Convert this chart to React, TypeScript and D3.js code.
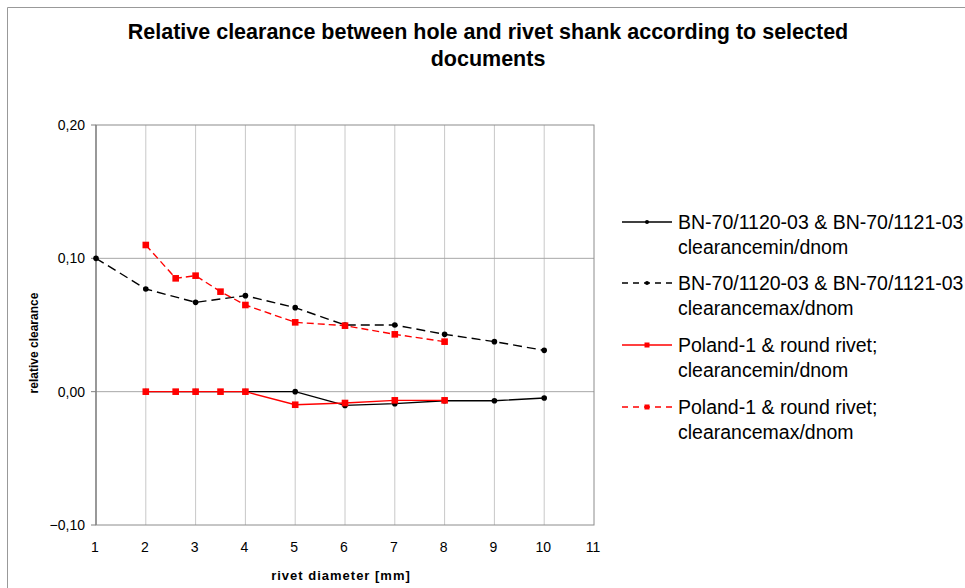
import React from "react";
import * as d3 from "d3";

const W = 965;
const H = 588;

const titleLines = [
  "Relative clearance between hole and rivet shank according to selected",
  "documents",
];

const xTicks = [1, 2, 3, 4, 5, 6, 7, 8, 9, 10, 11];
const yTicks = [-0.1, 0, 0.1, 0.2];

// BN-70/1120-03 & BN-70/1121-03
const bnMinX = [2, 3, 4, 5, 6, 7, 8, 9, 10];
const bnMinY = [0, 0, 0, 0, -0.0103, -0.009, -0.0068, -0.0068, -0.0047];
const bnMaxX = [1, 2, 3, 4, 5, 6, 7, 8, 9, 10];
const bnMaxY = [0.1, 0.077, 0.067, 0.072, 0.063, 0.05, 0.05, 0.043, 0.0375, 0.031];

// Poland-1 & round rivet
const plX = [2, 2.6, 3, 3.5, 4, 5, 6, 7, 8];
const plMinY = [0, 0, 0, 0, 0, -0.0098, -0.0085, -0.0065, -0.0065];
const plMaxY = [0.11, 0.085, 0.087, 0.075, 0.065, 0.052, 0.0495, 0.043, 0.0375];

const legendLabels = [
  ["BN-70/1120-03 & BN-70/1121-03", "clearancemin/dnom"],
  ["BN-70/1120-03 & BN-70/1121-03", "clearancemax/dnom"],
  ["Poland-1 & round rivet;", "clearancemin/dnom"],
  ["Poland-1 & round rivet;", "clearancemax/dnom"],
];

const FONT = "'Liberation Sans', Arial, sans-serif";

type Series = {
  xs: number[];
  ys: number[];
  color: string;
  dash: string | null;
  marker: "circle" | "square";
};

const series: Series[] = [
  { xs: bnMinX, ys: bnMinY, color: "#000000", dash: null, marker: "circle" },
  { xs: bnMaxX, ys: bnMaxY, color: "#000000", dash: "9,5", marker: "circle" },
  { xs: plX, ys: plMinY, color: "#ff0000", dash: null, marker: "square" },
  { xs: plX, ys: plMaxY, color: "#ff0000", dash: "7,4", marker: "square" },
];

export default function App() {
  const left = 96;
  const right = 594;
  const top = 125;
  const bottom = 525;

  const x = d3.scaleLinear().domain([1, 11]).range([left, right]);
  const y = d3.scaleLinear().domain([-0.1, 0.2]).range([bottom, top]);

  const line = d3
    .line<[number, number]>()
    .x((d) => x(d[0]))
    .y((d) => y(d[1]));

  const fmt = (v: number) => d3.format(".2f")(v).replace(".", ",");

  const marker = (s: Series, cx: number, cy: number, key: string) =>
    s.marker === "circle" ? (
      <circle key={key} cx={cx} cy={cy} r={2.8} fill={s.color} />
    ) : (
      <rect key={key} x={cx - 3.3} y={cy - 3.3} width={6.6} height={6.6} fill={s.color} />
    );

  const legendRows = [222, 283, 345, 407];

  return (
    <svg
      width={W}
      height={H}
      style={{ position: "absolute", left: 0, top: 0, background: "#fff" }}
      fontFamily={FONT}
    >
      {/* outer frame */}
      <line x1={7.5} y1={7.5} x2={W} y2={7.5} stroke="#999" strokeWidth={1} />
      <line x1={7.5} y1={7.5} x2={7.5} y2={H} stroke="#999" strokeWidth={1} />

      {/* title */}
      {titleLines.map((t, i) => (
        <text
          key={i}
          x={488}
          y={39 + i * 27}
          textAnchor="middle"
          fontSize={21.5}
          fontWeight="bold"
          fill="#000"
        >
          {t}
        </text>
      ))}

      {/* gridlines */}
      {xTicks.slice(1, -1).map((t) => (
        <line
          key={"gx" + t}
          x1={x(t)}
          x2={x(t)}
          y1={top}
          y2={bottom}
          stroke="#c8c8c8"
          strokeWidth={1}
        />
      ))}
      {yTicks.slice(1, -1).map((t) => (
        <line
          key={"gy" + t}
          x1={left}
          x2={right}
          y1={y(t)}
          y2={y(t)}
          stroke="#a8a8a8"
          strokeWidth={1}
        />
      ))}

      {/* plot border */}
      <rect
        x={left}
        y={top}
        width={right - left}
        height={bottom - top}
        fill="none"
        stroke="#8c8c8c"
        strokeWidth={1}
      />
      <line x1={left} x2={left} y1={top} y2={bottom} stroke="#808080" strokeWidth={1.3} />

      {/* y ticks and labels */}
      {yTicks.map((t) => (
        <g key={"yt" + t}>
          <line x1={left - 5} x2={left} y1={y(t)} y2={y(t)} stroke="#808080" />
          <text
            x={85}
            y={y(t)}
            dy="0.35em"
            textAnchor="end"
            fontSize={14}
            fill="#000"
          >
            {fmt(t)}
          </text>
        </g>
      ))}

      {/* x tick labels */}
      {xTicks.map((t) => (
        <text
          key={"xt" + t}
          x={x(t) - 1}
          y={552}
          textAnchor="middle"
          fontSize={14}
          fill="#000"
        >
          {t}
        </text>
      ))}

      {/* axis titles */}
      <text
        x={341}
        y={580}
        textAnchor="middle"
        fontSize={13}
        fontWeight="bold"
        letterSpacing={1}
        fill="#000"
      >
        rivet diameter [mm]
      </text>
      <text
        transform={`translate(38,343) rotate(-90)`}
        textAnchor="middle"
        fontSize={12}
        fontWeight="bold"
        fill="#000"
      >
        relative clearance
      </text>

      {/* series */}
      {series.map((s, i) => {
        const pts: [number, number][] = s.xs.map((v, j) => [v, s.ys[j]]);
        return (
          <g key={"s" + i}>
            <path
              d={line(pts) ?? ""}
              fill="none"
              stroke={s.color}
              strokeWidth={1.4}
              strokeDasharray={s.dash ?? undefined}
            />
            {pts.map((p, j) => marker(s, x(p[0]), y(p[1]), `m${i}-${j}`))}
          </g>
        );
      })}

      {/* legend */}
      {series.map((s, i) => {
        const ly = legendRows[i];
        return (
          <g key={"lg" + i}>
            <line
              x1={622}
              x2={672}
              y1={ly}
              y2={ly}
              stroke={s.color}
              strokeWidth={1.3}
              strokeDasharray={s.dash ? "6,5" : undefined}
            />
            {s.marker === "circle" ? (
              <circle cx={647} cy={ly} r={2} fill={s.color} />
            ) : (
              <rect x={644.5} y={ly - 2.5} width={5} height={5} fill={s.color} />
            )}
            {legendLabels[i].map((t, k) => (
              <text
                key={k}
                x={678}
                y={ly + k * 25}
                dy="0.35em"
                fontSize={19.5}
                fill="#000"
              >
                {t}
              </text>
            ))}
          </g>
        );
      })}
    </svg>
  );
}
